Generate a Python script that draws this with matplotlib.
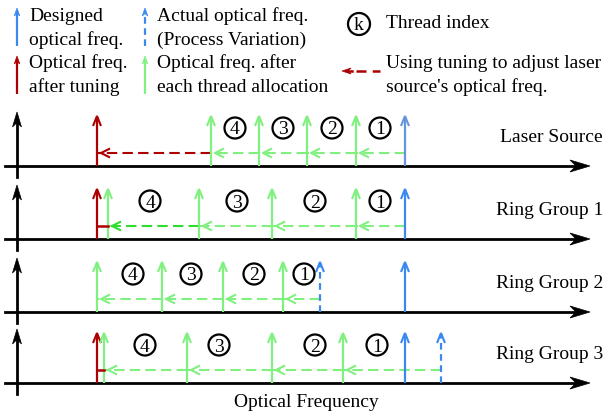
import matplotlib
matplotlib.use("Agg")
import matplotlib.pyplot as plt
from matplotlib.patches import Polygon, Circle

# ---------------- data (pixel-like frequency units) ----------------
row_labels = ["Laser Source", "Ring Group 1", "Ring Group 2", "Ring Group 3"]
row_axis_y = [166, 239, 312, 383]
designed_freq = [405, 405, 405, 405]
actual_freq = [None, None, 320, 441]          # process variation
tuned_freq = [97, 97, None, 97]                # after tuning (red)
thread_freqs = [[356, 307, 259, 211],
                [356, 272, 199, 108],
                [283, 223, 162, 97],
                [343, 272, 187, 104]]
thread_label_x = [[380, 332, 283, 235],
                  [380, 315, 237, 150],
                  [304, 254, 191, 133],
                  [377, 315, 219, 145]]
thread_ids = ["1", "2", "3", "4"]

BLUE = "#3a89f0"
BLUE_LS = "#6496dc"
RED = "#ad0000"
GREEN = "#80f080"
GREEN2 = "#2ede2e"
FONT = "Liberation Serif"
FS = 14

fig = plt.figure(figsize=(6.05, 4.18), dpi=100)
ax = fig.add_axes([0, 0, 1, 1])
ax.set_xlim(0, 605)
ax.set_ylim(418, 0)
ax.axis("off")


def stealth(x, y, d, L, W, color="black"):
    # d: 'r' right, 'u' up, 'l' left
    if d == "r":
        pts = [(x, y), (x - L, y - W), (x - 0.7 * L, y), (x - L, y + W)]
    elif d == "l":
        pts = [(x, y), (x + L, y - W), (x + 0.7 * L, y), (x + L, y + W)]
    else:
        pts = [(x, y), (x - W, y + L), (x, y + 0.7 * L), (x + W, y + L)]
    ax.add_patch(Polygon(pts, closed=True, fc=color, ec=color, lw=0.5, zorder=5))


def open_head_up(x, y, color, L=10, W=4, lw=1.5):
    ax.plot([x - W, x, x + W], [y + L, y, y + L], color=color, lw=lw,
            solid_joinstyle="miter", solid_capstyle="butt", zorder=4)


def open_head_left(x, y, color, L=9, W=4.5, lw=1.5):
    ax.plot([x + L, x, x + L], [y - W, y, y + W], color=color, lw=lw,
            solid_capstyle="butt", zorder=4)


def vert_arrow(x, ybase, color, dashed=False, h=50):
    ls = (0, (3, 2)) if dashed else "-"
    ax.plot([x, x], [ybase, ybase - h + 1], color=color, lw=1.6, ls=ls,
            solid_capstyle="butt", zorder=3)
    open_head_up(x, ybase - h, color)


DASH = (0, (5, 2.5))


def dashed_seg(x0, x1, y, color, head=True):
    ax.plot([x0, x1], [y, y], color=color, lw=1.5, ls=DASH, zorder=2)
    if head:
        open_head_left(x1 + 4, y, color)


# ---------------- legend ----------------
def legend_arrow(x, y0, y1, color, dashed=False):
    ls = (0, (3, 2)) if dashed else "-"
    ax.plot([x, x], [y0, y1 + 5], color=color, lw=1.6, ls=ls,
            solid_capstyle="butt")
    stealth(x, y1, "u", 8, 2.8, color)


legend_arrow(17, 46, 8, BLUE)
legend_arrow(17, 94, 56, RED)
legend_arrow(145, 46, 8, BLUE, dashed=True)
legend_arrow(145, 94, 56, GREEN)

txt = dict(fontsize=FS, family=FONT, va="baseline", ha="left")
ax.text(29, 21, "Designed", **txt)
ax.text(29, 45, "optical freq.", **txt)
ax.text(29, 68, "Optical freq.", **txt)
ax.text(29, 92, "after tuning", **txt)
ax.text(157, 21, "Actual optical freq.", **txt)
ax.text(157, 45, "(Process Variation)", **txt)
ax.text(157, 68, "Optical freq. after", **txt)
ax.text(157, 92, "each thread allocation", **txt)

ax.add_patch(Circle((359, 24), 11, fill=False, ec="black", lw=1.6))
ax.text(359, 24, "k", fontsize=FS, family=FONT, ha="center", va="center_baseline")
ax.text(386, 28, "Thread index", **txt)

ax.plot([356, 380], [71, 71], color=RED, lw=1.8, ls=(0, (4, 2.5)))
stealth(342, 71, "l", 9, 3, RED)
ax.plot([348, 352], [71, 71], color=RED, lw=1.8)
ax.text(386, 68, "Using tuning to adjust laser", **txt)
ax.text(386, 92, "source's optical freq.", **txt)

# ---------------- rows ----------------
for i, label in enumerate(row_labels):
    y = row_axis_y[i]
    # axes
    ax.plot([5, 578], [y, y], color="black", lw=2.0, zorder=1)
    stealth(590, y, "r", 20, 6)
    ax.plot([17, 17], [y + 11, y - 45], color="black", lw=2.0, zorder=1)
    stealth(17, y - 54, "u", 15, 4.5)
    ax.text(603, y - 24, label, fontsize=FS, family=FONT, va="baseline", ha="right")

    dy = y - 13
    # designed freq
    vert_arrow(designed_freq[i], y, BLUE_LS if i == 0 else BLUE)
    if actual_freq[i] is not None:
        vert_arrow(actual_freq[i], y, BLUE, dashed=True)
    if tuned_freq[i] is not None:
        vert_arrow(tuned_freq[i], y, RED)
    for f in thread_freqs[i]:
        vert_arrow(f, y, GREEN)
    for lx, tid in zip(thread_label_x[i], thread_ids):
        ax.add_patch(Circle((lx, y - 38), 10.5, fill=False, ec="black", lw=1.6, zorder=4))
        ax.text(lx, y - 38, tid, fontsize=FS, family=FONT, ha="center",
                va="center_baseline", zorder=5)

    # dashed allocation path
    start = actual_freq[i] if actual_freq[i] is not None else designed_freq[i]
    prev = start
    for k, f in enumerate(thread_freqs[i]):
        col = GREEN2 if (i == 1 and k == 3) else GREEN
        dashed_seg(prev, f, dy, col)
        prev = f
    if tuned_freq[i] is not None:
        if i == 0:
            dashed_seg(prev, tuned_freq[i], dy, RED)
        else:
            ax.plot([prev, tuned_freq[i]], [dy, dy], color=RED, lw=1.8, zorder=3)

ax.text(306, 407, "Optical Frequency", fontsize=FS, family=FONT, ha="center", va="baseline")

fig.savefig("out.png", dpi=100)
